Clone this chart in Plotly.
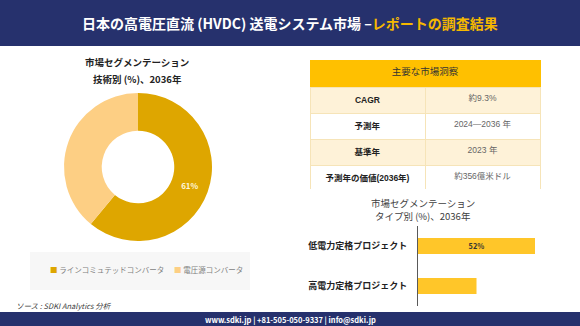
import plotly.graph_objects as go

W, H = 580, 326
FONT = "Noto Sans CJK JP"
TFONT = "Liberation Sans, Noto Sans CJK JP"


def px(x):
    return x / W


def py(y):
    return 1 - y / H


# ---------------- data ----------------
title_main = "日本の高電圧直流 (HVDC) 送電システム市場 –"
title_accent = "レポートの調査結果"

pie_title = ["市場セグメンテーション", "技術別 (%)、2036年"]
tech_labels = ["ラインコミュテッドコンバータ", "電圧源コンバータ"]
tech_values = [61, 39]
tech_text = ["%{percent:.0%}", ""]

bar_title = ["市場セグメンテーション", "タイプ別 (%)、2036年"]
type_labels = ["低電力定格プロジェクト", "高電力定格プロジェクト"]
type_values = [52, 26]
type_text = ["%{x}%", ""]

table_header = "主要な市場洞察"
table_keys = ["CAGR", "予測年", "基準年", "予測年の価値(2036年)"]
table_vals = ["約9.3%", "2024—2036 年", "2023 年", "約356億米ドル"]

source_text = "ソース : SDKI Analytics 分析"
footer_text = "www.sdki.jp | +81-505-050-9337 | info@sdki.jp"

# ---------------- styles ----------------
NAVY = "#26316D"
GOLD_TXT = "#F5B800"
DARK_SLICE = "#DEA600"
LIGHT_SLICE = "#FDCF84"
BAR_COLOR = "#FFC629"
HEAD_GOLD = "#FFC000"
CREAM = "#FEF2D8"
LINE = "#F6E4B8"

fig = go.Figure()

# donut
fig.add_trace(go.Pie(
    labels=tech_labels, values=tech_values, hole=0.49, sort=False,
    direction="clockwise", rotation=0,
    marker=dict(colors=[DARK_SLICE, LIGHT_SLICE], line=dict(width=0)),
    texttemplate=tech_text, textposition="inside",
    insidetextfont=dict(color="#FFF6DD", size=8, family=FONT, weight="bold"),
    hoverinfo="skip", showlegend=False,
    domain=dict(x=[px(64), px(212)], y=[py(241), py(93)]),
))

# bar chart
fig.add_trace(go.Bar(
    x=type_values, y=type_labels, orientation="h",
    marker=dict(color=BAR_COLOR, line=dict(width=0)), width=0.4,
    texttemplate=type_text, textposition="inside", insidetextanchor="middle",
    textfont=dict(size=8, color="#333333", family=FONT, weight="bold"),
    hoverinfo="skip", showlegend=False,
))

# table body (first data row used as the header row)
key_cells = [f"<b>{k}</b>" for k in table_keys]
body_fill = ["white", CREAM, "white"]
fig.add_trace(go.Table(
    domain=dict(x=[px(310), px(540)], y=[py(190), py(87)]),
    columnwidth=[1, 1],
    header=dict(values=[key_cells[0], table_vals[0]], fill_color=CREAM, height=25,
                line=dict(color=LINE, width=1), align="center",
                font=dict(size=8.5, color=["#222222", "#666666"], family=TFONT)),
    cells=dict(values=[key_cells[1:], table_vals[1:]],
               fill_color=[body_fill, body_fill], height=25,
               line=dict(color=LINE, width=1), align="center",
               font=dict(size=8.5, color=["#222222", "#666666"], family=TFONT)),
))

# table title (single spanning cell)
fig.add_trace(go.Table(
    domain=dict(x=[px(310), px(540)], y=[py(88), py(60)]),
    columnwidth=[1],
    header=dict(values=[table_header], fill_color=HEAD_GOLD, height=27,
                line=dict(color=HEAD_GOLD, width=1), align="center",
                font=dict(size=9.5, color="#333333", family=TFONT)),
    cells=dict(values=[[""]], height=1, fill_color=HEAD_GOLD,
               line=dict(color=HEAD_GOLD, width=0)),
))

shapes = [
    dict(type="rect", xref="paper", yref="paper", x0=0, x1=1, y0=py(46), y1=py(0),
         fillcolor=NAVY, line=dict(width=0), layer="below"),
    dict(type="rect", xref="paper", yref="paper", x0=0, x1=1, y0=py(326), y1=py(312),
         fillcolor=NAVY, line=dict(width=0), layer="below"),
    dict(type="rect", xref="paper", yref="paper", x0=px(30), x1=px(250), y0=py(290), y1=py(252),
         fillcolor="#F7F7F7", line=dict(width=0), layer="below"),
]


def ann(text, x, y, size, color, xanchor="center", **kw):
    return dict(text=text, x=px(x), y=py(y), xref="paper", yref="paper",
                xanchor=xanchor, yanchor="middle", showarrow=False,
                font=dict(size=size, color=color, family=FONT), **kw)


annotations = [
    ann(f"<b>{title_main}<span style='color:{GOLD_TXT}'>{title_accent}</span></b>",
        290, 23, 14, "white"),
    ann(f"<b>{pie_title[0]}</b>", 137, 62, 9.5, "#222222"),
    ann(f"<b>{pie_title[1]}</b>", 137, 79, 9.5, "#222222"),
    ann(bar_title[0], 423, 203, 9.5, "#404040"),
    ann(bar_title[1], 423, 216, 9.5, "#404040"),
    ann(f"<span style='color:{DARK_SLICE}'>■</span> {tech_labels[0]}",
        48, 269, 7.5, "#7F7F7F", xanchor="left"),
    ann(f"<span style='color:{LIGHT_SLICE}'>■</span> {tech_labels[1]}",
        172, 269, 7.5, "#7F7F7F", xanchor="left"),
    ann(f"<i>{source_text}</i>", 14, 305, 7.5, "#404040", xanchor="left"),
    ann(f"<b>{footer_text}</b>", 290, 319, 7.5, "white"),
]

fig.update_layout(
    width=W, height=H, margin=dict(l=0, r=0, t=0, b=0),
    paper_bgcolor="white", plot_bgcolor="rgba(0,0,0,0)",
    font=dict(family=FONT),
    shapes=shapes, annotations=annotations, showlegend=False,
    xaxis=dict(domain=[px(418), px(553)], range=[0, 60], visible=False, fixedrange=True),
    yaxis=dict(domain=[py(306), py(226)], autorange="reversed", showline=True,
               linecolor="#595959", linewidth=1, ticks="", showgrid=False,
               ticklabelstandoff=8,
               tickfont=dict(size=9, color="#222222", family=FONT, weight="bold")),
)

fig.write_html("out.html")
